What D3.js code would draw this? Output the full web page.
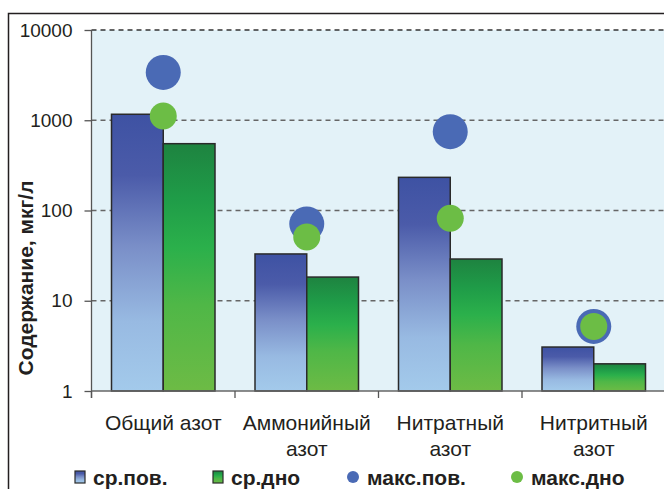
<!DOCTYPE html>
<html>
<head>
<meta charset="utf-8">
<script src="https://cdn.jsdelivr.net/npm/d3@7"></script>
<style>
  body { margin: 0; background: #fff; }
  svg { display: block; font-family: "Liberation Sans", Arial, sans-serif; }
</style>
</head>
<body>
<div id="chart"></div>
<script>
// values (log scale)
const categories = ["Общий азот", "Аммонийный азот", "Нитратный азот", "Нитритный азот"];
const categoryLines = [["Общий азот"], ["Аммонийный", "азот"], ["Нитратный", "азот"], ["Нитритный", "азот"]];
const seriesNames = ["ср.пов.", "ср.дно", "макс.пов.", "макс.дно"];
const srPov = [1165, 33, 233, 3.07];
const srDno = [550, 18.3, 29, 2.0];
const maksPov = [3390, 71, 747, 5.2];
const maksDno = [1115, 51, 82, 5.2];
const yTicks = [1, 10, 100, 1000, 10000];

const width = 664, height = 489;
const plotLeft = 91.5, plotRight = 665.5, plotTop = 30, plotBottom = 391;

const svg = d3.select("#chart")
    .append("svg")
        .attr("width", width)
        .attr("height", height);

// gradients for the bars
const defs = svg.append("defs");
const blueGrad = defs.append("linearGradient")
    .attr("id", "gradBlue")
    .attr("x1", 0).attr("y1", 0).attr("x2", 0).attr("y2", 1);
[["0%", "#3e52a3"], ["22%", "#4b5ba9"], ["48%", "#7a8fc8"], ["75%", "#98bae2"], ["100%", "#a3caeb"]]
    .forEach(s => blueGrad.append("stop").attr("offset", s[0]).attr("stop-color", s[1]));
const greenGrad = defs.append("linearGradient")
    .attr("id", "gradGreen")
    .attr("x1", 0).attr("y1", 0).attr("x2", 0).attr("y2", 1);
[["0%", "#1e8340"], ["22%", "#1f9c48"], ["42%", "#2bb04b"], ["65%", "#4fb747"], ["100%", "#6dbb45"]]
    .forEach(s => greenGrad.append("stop").attr("offset", s[0]).attr("stop-color", s[1]));

// outer frame
svg.append("rect")
    .attr("x", 8.5).attr("y", 13.5)
    .attr("width", 700).attr("height", 500)
    .attr("fill", "none")
    .attr("stroke", "#231f20")
    .attr("stroke-width", 1.5);

const x = d3.scaleBand()
    .domain(categories)
    .range([plotLeft, plotRight]);
const xInner = d3.scaleBand()
    .domain(["ср.пов.", "ср.дно"])
    .range([20, x.bandwidth() - 20]);
const y = d3.scaleLog()
    .domain([1, 10000])
    .range([plotBottom, plotTop]);

// plot background
svg.append("rect")
    .attr("x", plotLeft).attr("y", plotTop)
    .attr("width", width - plotLeft).attr("height", plotBottom - plotTop)
    .attr("fill", "#e3f2f8");

// dashed grid lines
svg.append("g")
    .selectAll("line")
    .data(yTicks.slice(1))
    .enter()
    .append("line")
        .attr("x1", plotLeft).attr("x2", width)
        .attr("y1", d => y(d)).attr("y2", d => y(d))
        .attr("stroke", d => d === 10000 ? "#333" : "#666")
        .attr("stroke-width", 1.3)
        .attr("stroke-dasharray", "5,4");

// bars
const bars = [
    { name: "ср.пов.", values: srPov, fill: "url(#gradBlue)" },
    { name: "ср.дно", values: srDno, fill: "url(#gradGreen)" }
];
bars.forEach(series => {
    svg.append("g")
        .selectAll("rect")
        .data(series.values)
        .enter()
        .append("rect")
            .attr("x", (d, i) => x(categories[i]) + xInner(series.name))
            .attr("y", d => y(d))
            .attr("width", xInner.bandwidth())
            .attr("height", d => y(1) - y(d))
            .attr("fill", series.fill)
            .attr("stroke", "#2a2a2a")
            .attr("stroke-width", 1.5);
});

// max points
const dots = [
    { values: maksPov, r: 17.5, fill: "#4a6ab5" },
    { values: maksDno, r: 13.5, fill: "#6cbd45" }
];
dots.forEach(series => {
    svg.append("g")
        .selectAll("circle")
        .data(series.values)
        .enter()
        .append("circle")
            .attr("cx", (d, i) => x(categories[i]) + x.bandwidth() / 2)
            .attr("cy", d => y(d))
            .attr("r", series.r)
            .attr("fill", series.fill);
});

// y axis
const yAxis = svg.append("g")
    .attr("transform", `translate(${plotLeft},0)`)
    .call(d3.axisLeft(y)
        .tickValues(yTicks)
        .tickFormat(d3.format("d"))
        .tickSize(7)
        .tickPadding(12));
yAxis.select(".domain").remove();
yAxis.selectAll(".tick line").attr("stroke", "#555").attr("stroke-width", 1.3);
yAxis.selectAll(".tick text")
    .attr("font-size", 19)
    .attr("font-family", "Liberation Sans, Arial, sans-serif")
    .attr("fill", "#231f20");
svg.append("line")
    .attr("x1", plotLeft).attr("x2", plotLeft)
    .attr("y1", plotTop).attr("y2", plotBottom + 7)
    .attr("stroke", "#555").attr("stroke-width", 1.3);

// x axis
svg.append("line")
    .attr("x1", plotLeft).attr("x2", width)
    .attr("y1", plotBottom).attr("y2", plotBottom)
    .attr("stroke", "#666").attr("stroke-width", 1.3);
svg.append("g")
    .selectAll("line")
    .data(categories)
    .enter()
    .append("line")
        .attr("x1", d => x(d)).attr("x2", d => x(d))
        .attr("y1", plotBottom).attr("y2", plotBottom + 7)
        .attr("stroke", "#555").attr("stroke-width", 1.3);

const xLabels = svg.append("g")
    .selectAll("text")
    .data(categories)
    .enter()
    .append("text")
        .attr("x", d => x(d) + x.bandwidth() / 2)
        .attr("y", 430)
        .attr("text-anchor", "middle")
        .attr("font-size", 21)
        .attr("fill", "#231f20");
xLabels.each(function(d, i) {
    const t = d3.select(this);
    categoryLines[i].forEach((line, j) => {
        t.append("tspan")
            .attr("x", x(d) + x.bandwidth() / 2)
            .attr("dy", j === 0 ? 0 : 26)
            .text(line);
    });
});

// y axis title
svg.append("text")
    .attr("transform", "translate(33,278) rotate(-90)")
    .attr("text-anchor", "middle")
    .attr("font-size", 21)
    .attr("font-weight", "bold")
    .attr("fill", "#231f20")
    .text("Содержание, мкг/л");

// legend
const legendItems = [
    { name: seriesNames[0], kind: "rect", fill: "url(#gradBlue)", x: 75 },
    { name: seriesNames[1], kind: "rect", fill: "url(#gradGreen)", x: 213 },
    { name: seriesNames[2], kind: "dot", fill: "#4a6ab5", x: 347 },
    { name: seriesNames[3], kind: "dot", fill: "#6cbd45", x: 511 }
];
const legend = svg.append("g");
legendItems.forEach(item => {
    if (item.kind === "rect") {
        legend.append("rect")
            .attr("x", item.x).attr("y", 471)
            .attr("width", 10).attr("height", 12)
            .attr("fill", item.fill)
            .attr("stroke", "#2a2a2a").attr("stroke-width", 1.2);
    } else {
        legend.append("circle")
            .attr("cx", item.x + 6).attr("cy", 477)
            .attr("r", 6)
            .attr("fill", item.fill);
    }
    legend.append("text")
        .attr("x", item.x + (item.kind === "rect" ? 18 : 20))
        .attr("y", 485)
        .attr("font-size", 21)
        .attr("font-weight", "bold")
        .attr("fill", "#231f20")
        .text(item.name);
});
</script>
</body>
</html>
